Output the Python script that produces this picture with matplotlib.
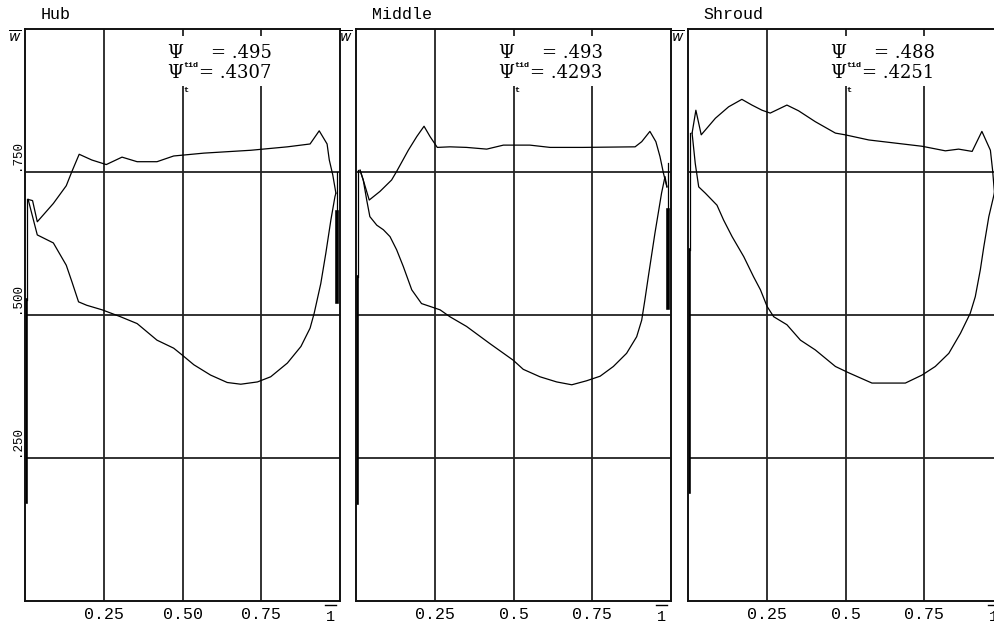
import matplotlib
matplotlib.use('Agg')
import matplotlib.pyplot as plt

# blade-to-blade relative velocity w/w_ref along normalized meridional length
names = ['Hub', 'Middle', 'Shroud']
psi = ['.495', '.493', '.488']
psi_tid = ['.4307', '.4293', '.4251']
xlabels = [['0.25', '0.50', '0.75'], ['0.25', '0.5', '0.75'], ['0.25', '0.5', '0.75']]
xticks = [0.25, 0.5, 0.75]
yticks = [0.25, 0.5, 0.75]
ylabels = ['.250', '.500', '.750']

hub_up_x = [0.010, 0.024, 0.039, 0.090, 0.131, 0.149, 0.172, 0.212, 0.258, 0.308, 0.356, 0.419, 0.472,
            0.568, 0.717, 0.833, 0.905, 0.934, 0.959, 0.966, 0.977, 0.987]
hub_up_y = [0.702, 0.700, 0.663, 0.695, 0.726, 0.751, 0.781, 0.771, 0.763, 0.776, 0.768, 0.768, 0.778,
            0.783, 0.788, 0.794, 0.799, 0.822, 0.799, 0.771, 0.745, 0.713]
hub_lo_x = [0.010, 0.039, 0.090, 0.131, 0.149, 0.170, 0.196, 0.245, 0.303, 0.356, 0.419, 0.472, 0.499,
            0.536, 0.589, 0.642, 0.685, 0.738, 0.780, 0.833, 0.876, 0.905, 0.918, 0.939, 0.955, 0.971,
            0.984, 0.987]
hub_lo_y = [0.702, 0.640, 0.626, 0.587, 0.558, 0.523, 0.517, 0.509, 0.497, 0.485, 0.456, 0.442, 0.430,
            0.413, 0.395, 0.382, 0.379, 0.383, 0.392, 0.416, 0.445, 0.477, 0.503, 0.555, 0.608, 0.666,
            0.707, 0.713]

mid_up_x = [0.013, 0.023, 0.042, 0.076, 0.113, 0.129, 0.166, 0.193, 0.216, 0.235, 0.258, 0.298, 0.351,
            0.415, 0.468, 0.552, 0.616, 0.720, 0.886, 0.907, 0.933, 0.952, 0.965, 0.976, 0.987]
mid_up_y = [0.753, 0.736, 0.701, 0.716, 0.736, 0.751, 0.788, 0.812, 0.830, 0.812, 0.793, 0.794, 0.793,
            0.790, 0.797, 0.797, 0.793, 0.793, 0.794, 0.803, 0.821, 0.803, 0.777, 0.748, 0.724]
mid_lo_x = [0.013, 0.023, 0.034, 0.044, 0.066, 0.087, 0.108, 0.129, 0.150, 0.177, 0.208, 0.235, 0.267,
            0.298, 0.351, 0.425, 0.499, 0.531, 0.584, 0.637, 0.685, 0.732, 0.775, 0.817, 0.859, 0.891,
            0.907, 0.917, 0.928, 0.949, 0.970, 0.981, 0.987]
mid_lo_y = [0.753, 0.736, 0.701, 0.672, 0.657, 0.649, 0.637, 0.614, 0.585, 0.544, 0.520, 0.515, 0.509,
            0.497, 0.480, 0.450, 0.421, 0.405, 0.392, 0.383, 0.378, 0.385, 0.393, 0.410, 0.433, 0.462,
            0.491, 0.526, 0.567, 0.643, 0.713, 0.742, 0.724]

shr_up_x = [0.013, 0.025, 0.042, 0.087, 0.129, 0.171, 0.203, 0.235, 0.261, 0.314, 0.351, 0.404, 0.468,
            0.499, 0.574, 0.743, 0.817, 0.859, 0.902, 0.933, 0.960, 0.967, 0.975]
shr_up_y = [0.818, 0.858, 0.815, 0.844, 0.864, 0.877, 0.867, 0.858, 0.853, 0.867, 0.857, 0.838, 0.818,
            0.815, 0.806, 0.795, 0.787, 0.790, 0.786, 0.821, 0.788, 0.753, 0.700]
shr_lo_x = [0.013, 0.023, 0.034, 0.055, 0.092, 0.113, 0.140, 0.177, 0.208, 0.230, 0.251, 0.272, 0.314,
            0.357, 0.404, 0.468, 0.510, 0.584, 0.690, 0.743, 0.785, 0.828, 0.865, 0.896, 0.912, 0.928,
            0.939, 0.955, 0.970, 0.975]
shr_lo_y = [0.818, 0.765, 0.724, 0.713, 0.692, 0.666, 0.637, 0.602, 0.567, 0.544, 0.515, 0.497, 0.483,
            0.456, 0.439, 0.410, 0.399, 0.381, 0.381, 0.395, 0.410, 0.433, 0.468, 0.503, 0.532, 0.579,
            0.619, 0.672, 0.707, 0.720]

# leading / trailing edge segments: thin part from curve start, thick part below
le_top = [0.702, 0.753, 0.818]
le_mid = [0.526, 0.566, 0.614]
le_bot = [0.173, 0.171, 0.190]
te_top = [0.750, 0.766, None]
te_mid = [0.680, 0.684, None]
te_bot = [0.523, 0.512, None]

ups = [(hub_up_x, hub_up_y), (mid_up_x, mid_up_y), (shr_up_x, shr_up_y)]
los = [(hub_lo_x, hub_lo_y), (mid_lo_x, mid_lo_y), (shr_lo_x, shr_lo_y)]

W, H = 994, 626
fig = plt.figure(figsize=(W / 100, H / 100), dpi=100)
lefts = [25, 356, 688]
mono = 'Liberation Mono'
serif = 'DejaVu Serif'

for i in range(3):
    ax = fig.add_axes([lefts[i] / W, 25 / H, 315 / W, 572 / H])
    ax.set_xlim(0, 1)
    ax.set_ylim(0, 1)
    for s in ax.spines.values():
        s.set_linewidth(1.4)
        s.set_color('#111')
    ax.set_xticks(xticks)
    ax.set_xticklabels(xlabels[i], family=mono, fontsize=12)
    ax.set_yticks(yticks)
    ax.set_yticklabels([])
    ax.tick_params(length=0, pad=4)
    ax.grid(True, color='#222', lw=1.3)

    ax.plot(ups[i][0], ups[i][1], color='black', lw=0.9)
    ax.plot(los[i][0], los[i][1], color='black', lw=0.9)
    ax.plot([0.006, 0.006], [le_top[i], le_mid[i]], color='black', lw=0.9)
    ax.plot([0.004, 0.004], [le_mid[i], le_bot[i]], color='black', lw=2.6)
    if te_top[i] is not None:
        ax.plot([0.990, 0.990], [te_top[i], te_mid[i]], color='black', lw=0.9)
        ax.plot([0.992, 0.992], [te_mid[i], te_bot[i]], color='black', lw=2.6)

    # white patch behind the Psi annotation
    ax.add_patch(plt.Rectangle((0.44, 0.90), 0.355, 0.088, transform=ax.transAxes,
                               facecolor='white', edgecolor='none', zorder=3))
    ax.text(0.452, 0.950, '\u03a8', transform=ax.transAxes, family=serif,
            fontsize=13, va='baseline', ha='left', zorder=4)
    ax.text(0.783, 0.950, '= ' + psi[i], transform=ax.transAxes, family=serif,
            fontsize=13, va='baseline', ha='right', zorder=4)
    ax.text(0.452, 0.914, '\u03a8', transform=ax.transAxes, family=serif,
            fontsize=13, va='baseline', ha='left', zorder=4)
    ax.text(0.503, 0.933, 'tid', transform=ax.transAxes, family=mono,
            fontsize=6, fontweight='bold', va='baseline', ha='left', zorder=5)
    ax.text(0.503, 0.889, 't', transform=ax.transAxes, family=mono,
            fontsize=6, fontweight='bold', va='baseline', ha='left', zorder=5)
    ax.text(0.783, 0.914, '= ' + psi_tid[i], transform=ax.transAxes, family=serif,
            fontsize=13, va='baseline', ha='right', zorder=4)

    # "1" with an overbar at the right end of the x axis
    ax.text(0.97, -0.015, '1', transform=ax.transAxes, family=mono,
            fontsize=11, ha='center', va='top', clip_on=False)
    ax.plot([0.952, 0.988], [-0.007, -0.007], transform=ax.transAxes,
            color='black', lw=1.0, clip_on=False)

    ax.text(0.05, 1.012, names[i], transform=ax.transAxes, family=mono,
            fontsize=12, ha='left', va='bottom', clip_on=False)
    ax.text(-0.012, 1.0, r'$\overline{w}$', transform=ax.transAxes,
            fontsize=10, ha='right', va='top', clip_on=False)

    if i == 0:
        for yv, lab in zip(yticks, ylabels):
            ax.text(-0.005, yv + 0.004, lab, transform=ax.transAxes, family=mono,
                    fontsize=9, rotation=90, ha='right', va='bottom', clip_on=False)

fig.savefig('out.png', dpi=100)
